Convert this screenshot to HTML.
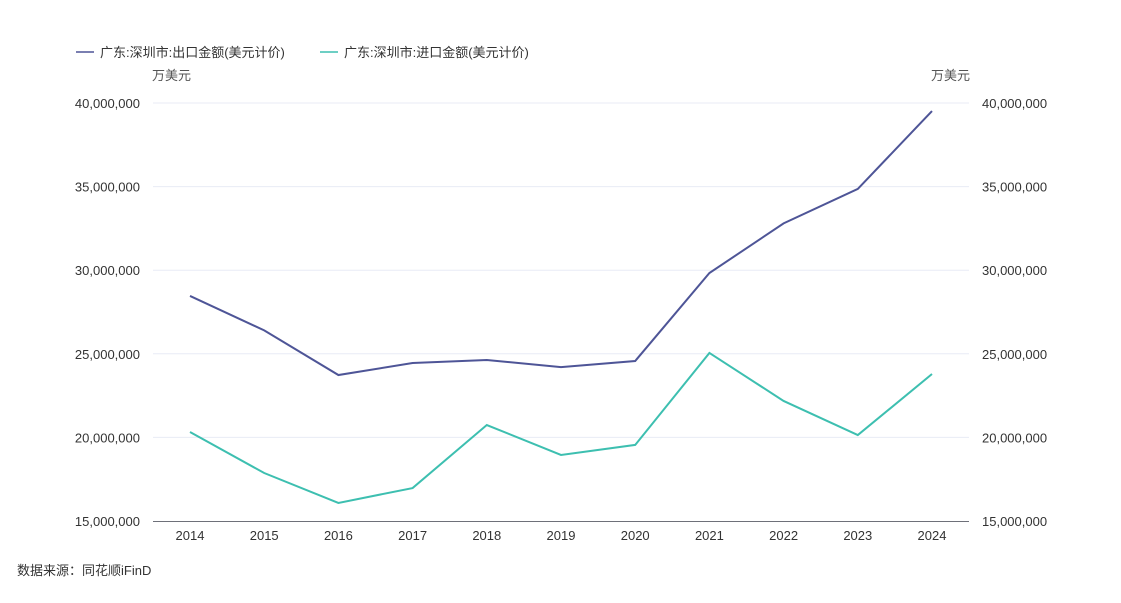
<!DOCTYPE html>
<html><head><meta charset="utf-8"><style>
body{margin:0;background:#fff;font-family:"Liberation Sans","Noto Sans CJK SC",sans-serif;}
svg text{font-family:"Liberation Sans","Noto Sans CJK SC",sans-serif;}
</style></head><body>
<svg id="chart" width="1121" height="598" xmlns="http://www.w3.org/2000/svg">
<g>
<g><line x1="76" y1="52" x2="94" y2="52" stroke="#4e5597" stroke-width="1.5"/><text x="100" y="57" font-size="13" fill="#333">广东:深圳市:出口金额(美元计价)</text></g>
<g><line x1="320" y1="52" x2="338" y2="52" stroke="#3dbfb0" stroke-width="1.5"/><text x="344" y="57" font-size="13" fill="#333">广东:深圳市:进口金额(美元计价)</text></g>
</g>
<text x="152" y="80" font-size="13" fill="#555">万美元</text>
<text x="970" y="80" font-size="13" fill="#555" text-anchor="end">万美元</text>
<g id="grid"></g><g id="axes"></g><g id="series"></g>
<text x="17" y="575" font-size="13" fill="#333">数据来源：同花顺iFinD</text>
</svg>
<script>
const years=["2014","2015","2016","2017","2018","2019","2020","2021","2022","2023","2024"];
const exportVals=[28.46,26.4,23.73,24.45,24.63,24.2,24.57,29.83,32.8,34.86,39.52];
const importVals=[20.32,17.87,16.08,16.97,20.74,18.95,19.55,25.05,22.18,20.14,23.79];
const yTicks=[15,20,25,30,35,40];
const tickLabels=["15,000,000","20,000,000","25,000,000","30,000,000","35,000,000","40,000,000"];
const NS="http://www.w3.org/2000/svg";
const x=i=>190+i*74.2;
const y=v=>521-(v-15)/25*418;
function mk(tag,attrs,parent){const e=document.createElementNS(NS,tag);for(const k in attrs)e.setAttribute(k,attrs[k]);parent.appendChild(e);return e;}
const grid=document.getElementById('grid'),axes=document.getElementById('axes'),series=document.getElementById('series');
yTicks.forEach((t,i)=>{
 if(i>0){const g=mk('line',{x1:153,x2:969,y1:y(t),y2:y(t),stroke:'#e8ebf5','stroke-width':1},grid);
 
 }
 const l=mk('text',{x:140,y:y(t)+5,'font-size':13,fill:'#333','text-anchor':'end'},axes);l.textContent=tickLabels[i];
 
 
 const r=mk('text',{x:982,y:y(t)+5,'font-size':13,fill:'#333'},axes);r.textContent=tickLabels[i];
 
 
});
const ax=mk('line',{x1:153,x2:969,y1:521.5,y2:521.5,stroke:'#6e7079','stroke-width':1},axes);


years.forEach((yr,i)=>{const t=mk('text',{x:x(i),y:540,'font-size':13,fill:'#333','text-anchor':'middle'},axes);t.textContent=yr;
 
 });
function line(vals,color,name){const p=mk('polyline',{points:vals.map((v,i)=>x(i)+','+y(v)).join(' '),fill:'none',stroke:color,'stroke-width':2},series);
 
 }
line(exportVals,'#4e5597','export-line');
line(importVals,'#3dbfb0','import-line');
</script>
</body></html>
